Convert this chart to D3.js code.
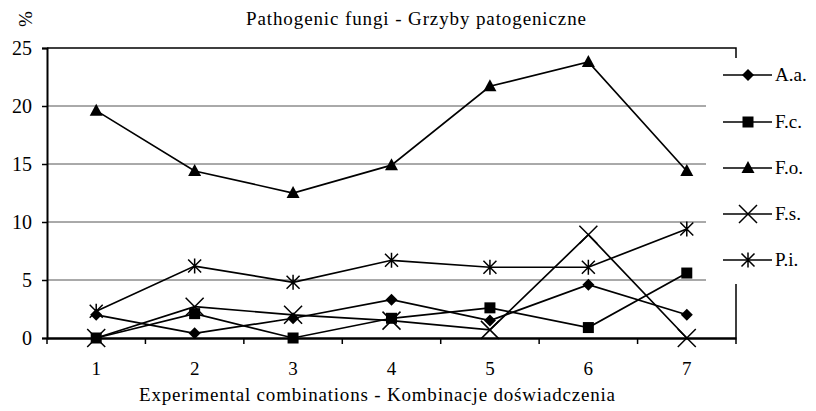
<!DOCTYPE html>
<meta charset="utf-8">
<html>
<style>
body { margin: 0; background: #fff; }
.grid line { stroke: #555; stroke-width: 1px; }
.series { fill: none; stroke: #000; stroke-width: 1.7px; }
</style>
<body>
<script src="https://cdnjs.cloudflare.com/ajax/libs/d3/7.8.5/d3.min.js"></script>
<script>
	var width = 816;
	var height = 411;
	var serif = "Liberation Serif";

	// data
	var categories = ["1", "2", "3", "4", "5", "6", "7"];
	var seriesNames = ["A.a.", "F.c.", "F.o.", "F.s.", "P.i."];
	var aa = [2.0, 0.4, 1.7, 3.3, 1.5, 4.6, 2.0];
	var fc = [0.0, 2.1, 0.0, 1.7, 2.6, 0.9, 5.6];
	var fo = [19.6, 14.4, 12.5, 14.9, 21.7, 23.8, 14.4];
	var fs = [0.0, 2.7, 2.0, 1.5, 0.7, 8.9, 0.0];
	var pInf = [2.3, 6.2, 4.8, 6.7, 6.1, 6.1, 9.4];
	var yTicks = [0, 5, 10, 15, 20, 25];

	var seriesValues = [aa, fc, fo, fs, pInf];
	var markers = ["diamond", "square", "triangle", "x", "star"];

	var plotLeft = 47, plotRight = 736, plotTop = 48, plotBottom = 338;

	var svg = d3.select("body").append("svg")
		.attr("width", width)
		.attr("height", height)
		.style("display", "block");

	var x = d3.scaleBand().domain(categories).range([plotLeft, plotRight]);
	var y = d3.scaleLinear().domain([0, 25]).range([plotBottom, plotTop]);

	// gridlines
	svg.append("g").attr("class", "grid")
		.selectAll("line")
		.data(yTicks.filter(d => d > 0 && d < 25))
		.enter().append("line")
		.attr("x1", plotLeft).attr("x2", plotRight)
		.attr("y1", d => y(d)).attr("y2", d => y(d));

	// plot border top + right
	svg.append("path")
		.attr("d", "M" + plotLeft + "," + y(25) + "H" + plotRight + "V" + plotBottom)
		.attr("fill", "none").attr("stroke", "#000").attr("stroke-width", 1.5);

	// y axis
	var yAxis = svg.append("g")
		.attr("transform", "translate(" + plotLeft + ",0)")
		.call(d3.axisLeft(y).tickValues(yTicks).tickSize(5).tickPadding(10));
	yAxis.select(".domain").attr("stroke-width", 2);
	yAxis.selectAll(".tick line").attr("stroke-width", 1.5);
	yAxis.selectAll("text").style("font-family", serif).style("font-size", "20px").attr("fill", "#000");

	// x axis
	var xAxis = svg.append("g")
		.attr("transform", "translate(0," + plotBottom + ")")
		.call(d3.axisBottom(x).tickSize(0).tickPadding(24).tickSizeOuter(0));
	xAxis.select(".domain").attr("stroke-width", 2.5);
	xAxis.selectAll("text").style("font-family", serif).style("font-size", "19px").attr("fill", "#000");
	var bounds = categories.map(c => x(c)).concat([plotRight]);
	xAxis.selectAll(".btick").data(bounds).enter().append("line")
		.attr("x1", d => d).attr("x2", d => d)
		.attr("y1", 0).attr("y2", 6)
		.attr("stroke", "#000").attr("stroke-width", 1.5);

	// legend background hides grid on the right
	svg.append("rect")
		.attr("x", 706).attr("y", 58)
		.attr("width", width - 706).attr("height", 284 - 58)
		.attr("fill", "#fff");

	function drawMarker(g, type, cx, cy) {
		if (type === "diamond") {
			g.append("path").attr("d", "M" + cx + "," + (cy - 6) + "L" + (cx + 6) + "," + cy + "L" + cx + "," + (cy + 6) + "L" + (cx - 6) + "," + cy + "Z")
				.attr("fill", "#000");
		} else if (type === "square") {
			g.append("rect").attr("x", cx - 5.5).attr("y", cy - 5.5)
				.attr("width", 11).attr("height", 11).attr("fill", "#000");
		} else if (type === "triangle") {
			g.append("path").attr("d", "M" + cx + "," + (cy - 7) + "L" + (cx + 6.5) + "," + (cy + 5) + "L" + (cx - 6.5) + "," + (cy + 5) + "Z")
				.attr("fill", "#000");
		} else if (type === "x") {
			var s = 9;
			g.append("path").attr("d", "M" + (cx - s) + "," + (cy - s) + "L" + (cx + s) + "," + (cy + s) +
				"M" + (cx + s) + "," + (cy - s) + "L" + (cx - s) + "," + (cy + s))
				.attr("stroke", "#000").attr("stroke-width", 1.5).attr("fill", "none");
		} else if (type === "star") {
			var r = 6.5;
			g.append("path").attr("d", "M" + (cx - r) + "," + (cy - r) + "L" + (cx + r) + "," + (cy + r) +
				"M" + (cx + r) + "," + (cy - r) + "L" + (cx - r) + "," + (cy + r) +
				"M" + cx + "," + (cy - r - 1) + "V" + (cy + r + 1))
				.attr("stroke", "#000").attr("stroke-width", 1.5).attr("fill", "none");
		}
	}

	var line = d3.line()
		.x((d, i) => x(categories[i]) + x.bandwidth() / 2)
		.y(d => y(d));

	seriesValues.forEach(function(vals, si) {
		var g = svg.append("g");
		g.append("path").datum(vals).attr("class", "series").attr("d", line);
		vals.forEach(function(v, i) {
			drawMarker(g, markers[si], x(categories[i]) + x.bandwidth() / 2, y(v));
		});
	});

	// legend
	var legendY = [75, 122, 168, 214, 260];
	seriesNames.forEach(function(name, i) {
		var g = svg.append("g");
		var ly = legendY[i];
		g.append("line").attr("x1", 723).attr("x2", 772).attr("y1", ly).attr("y2", ly)
			.attr("stroke", "#000").attr("stroke-width", 1.7);
		drawMarker(g, markers[i], 748, ly);
		g.append("text").attr("x", 775).attr("y", ly + 6)
			.style("font-family", serif).style("font-size", "19px").text(name);
	});

	// titles
	svg.append("text").attr("x", 416).attr("y", 25).attr("text-anchor", "middle")
		.style("font-family", serif).style("font-size", "19px")
		.attr("textLength", 340).attr("lengthAdjust", "spacing")
		.text("Pathogenic fungi - Grzyby patogeniczne");
	svg.append("text").attr("x", 377).attr("y", 401).attr("text-anchor", "middle")
		.style("font-family", serif).style("font-size", "19px")
		.attr("textLength", 476).attr("lengthAdjust", "spacing")
		.text("Experimental combinations - Kombinacje doświadczenia");
	svg.append("text").attr("transform", "translate(32,19) rotate(-90)")
		.attr("text-anchor", "middle").style("font-family", serif).style("font-size", "19px").text("%");
</script>
</body>
</html>
